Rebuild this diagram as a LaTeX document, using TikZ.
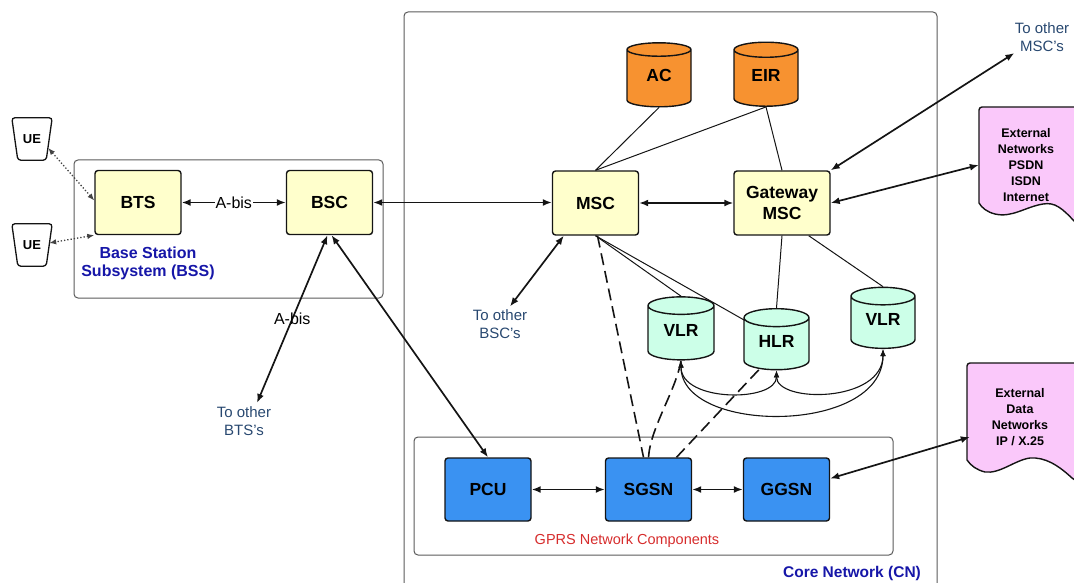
\documentclass[tikz,border=0pt]{standalone}
\usepackage{fontspec}
\setmainfont{Liberation Sans}
\usetikzlibrary{arrows.meta,shapes.geometric,calc}

\definecolor{elemyellow}{RGB}{255,255,204}
\definecolor{dborange}{RGB}{247,146,48}
\definecolor{dbgreen}{RGB}{204,255,232}
\definecolor{gprsblue}{RGB}{58,146,242}
\definecolor{extpink}{RGB}{250,200,250}
\definecolor{bssblue}{RGB}{22,22,168}
\definecolor{notecolor}{RGB}{40,72,112}
\definecolor{gprsred}{RGB}{214,44,44}
\definecolor{framegray}{RGB}{90,90,90}
\definecolor{linecol}{RGB}{20,20,20}

\begin{document}
\begin{tikzpicture}[x=1pt,y=-1pt,
  tip/.tip={Latex[length=9pt,width=7pt]},
  smalltip/.tip={Latex[length=7pt,width=5.5pt]},
  elem/.style={draw=linecol, line width=1.4pt, rounded corners=3pt,
    fill=elemyellow, minimum width=86pt, minimum height=64pt,
    font=\fontsize{17.5}{21}\selectfont\bfseries, align=center},
  gprs/.style={elem, fill=gprsblue, minimum height=63pt},
  db/.style={cylinder, shape border rotate=90, aspect=0.42, draw=linecol,
    line width=1.4pt, minimum width=64pt, minimum height=64pt,
    text height=12.5pt, text depth=10pt,
    font=\fontsize{17.5}{21}\selectfont\bfseries},
  frame/.style={draw=framegray, line width=1pt, rounded corners=4pt},
  link/.style={draw=linecol, line width=1.7pt, tip-tip},
  curvelink/.style={draw=linecol, line width=1.1pt, smalltip-smalltip},
  plain/.style={draw=linecol, line width=1pt},
  dashlink/.style={draw=linecol, line width=1.6pt, dash pattern=on 12pt off 6pt},
  dotlink/.style={draw=linecol!80, line width=1.3pt, dotted, smalltip-smalltip},
  note/.style={text=notecolor, font=\fontsize{15}{18}\selectfont, align=center},
  uenode/.style={minimum width=40pt, minimum height=42pt,
    font=\fontsize{13}{15}\selectfont\bfseries},
  uebox/.style={draw=linecol, line width=1.3pt, rounded corners=3pt, fill=white},
  docshape/.style={draw=linecol, line width=1.4pt, fill=extpink},
  doctext/.style={font=\fontsize{12.5}{16}\selectfont\bfseries, align=center}
]
\useasboundingbox (0,0) rectangle (1074,583);
\clip (0,0) rectangle (1074,583);

% group frames
\draw[frame] (74,160) rectangle (383,298);
\draw[frame] (404,12) rectangle (937,600);
\draw[frame] (414,437) rectangle (893,555);

% external network documents
\draw[docshape, rounded corners=3pt] (979,203) -- (979,107) -- (1090,107) [sharp corners] -- (1090,230)
  -- (1075,222) .. controls (1062,208) and (1055,202) .. (1043,204)
  .. controls (1025,207) and (1012,218) .. (995,214)
  .. controls (987,212) and (982,208) .. (979,203) -- cycle;
\draw[docshape, rounded corners=3pt] (967,460) -- (967,363) -- (1090,363) [sharp corners] -- (1090,490)
  -- (1072,478) .. controls (1058,465) and (1045,457) .. (1030,458)
  .. controls (1015,460) and (1000,474) .. (985,472)
  .. controls (977,470) and (971,466) .. (967,460) -- cycle;
\node[doctext, minimum width=94pt, minimum height=90pt] (extnet) at (1026,165)
  {External\\Networks\\PSDN\\ISDN\\Internet};
\node[doctext, minimum width=100pt, minimum height=90pt] (extdata) at (1020,417)
  {External\\Data\\Networks\\IP / X.25};

% user equipment
\node[uenode] (ue1) at (32,139) {};
\node[uenode] (ue2) at (32,245) {};
\foreach \u in {ue1,ue2}{
  \draw[uebox] (\u.north west) -- (\u.north east) -- ($(\u.south east)+(-6,0)$)
    -- ($(\u.south west)+(6,0)$) -- cycle;
}
\node[uenode] at (ue1) {UE};
\node[uenode] at (ue2) {UE};

% base station subsystem
\node[elem] (bts) at (138,202.5) {BTS};
\node[elem] (bsc) at (329.5,202.5) {BSC};
\node[text=bssblue, font=\fontsize{16}{18}\selectfont\bfseries, align=center]
  (bsslabel) at (148,263.5) {Base Station\\Subsystem (BSS)};

% switching subsystem
\node[elem] (msc) at (595.5,203) {MSC};
\node[elem, minimum width=96pt] (gmsc) at (782,203) {Gateway\\MSC};
\node[db, fill=dborange] (ac) at (659,80) {AC};
\node[db, fill=dborange] (eir) at (766,80) {EIR};
\node[db, fill=dbgreen, minimum width=66pt, minimum height=63pt] (vlra) at (681,335) {VLR};
\node[db, fill=dbgreen, minimum width=65pt, minimum height=61pt] (hlr) at (776.5,346) {HLR};
\node[db, fill=dbgreen, minimum width=64pt, minimum height=61pt] (vlrb) at (883,324.5) {VLR};

% GPRS components
\node[gprs] (pcu) at (488,489.5) {PCU};
\node[gprs] (sgsn) at (648.5,489.5) {SGSN};
\node[gprs] (ggsn) at (786.5,489.5) {GGSN};
\node[text=gprsred, font=\fontsize{14.5}{16}\selectfont] (gprslabel) at (627,541) {GPRS Network Components};
\node[text=bssblue, font=\fontsize{15.5}{18}\selectfont\bfseries] (cnlabel) at (852,573) {Core Network (CN)};

% remote ends
\node[note] (tomsc) at (1042,37) {To other\\MSC's};
\node[note] (tobsc) at (500,324.5) {To other\\BSC's};
\node[note] (tobts) at (244,421) {To other\\BTS's};

% radio links
\draw[dotlink] ($(ue1.east)+(-4,9)$) -- ($(bts.west)+(0,-2)$);
\draw[dotlink] (bts.south west) -- ($(ue2.east)+(-3,-2)$);

% wired links
\draw[link] (bts) -- node[fill=white, inner sep=1pt, font=\fontsize{16}{18}\selectfont] (abisa) {A-bis} (bsc);
\draw[link] (bsc.east) -- (bsc.east -| msc.west);
\draw[link] (msc) -- (gmsc);
\draw[plain] (ac.bottom) -- (msc.north);
\draw[plain] (eir.bottom) -- (msc.north);
\draw[plain] (eir.bottom) -- (gmsc.north);
\draw[plain] (msc.south) -- (vlra.top);
\draw[plain] (msc.south) -- ($(hlr.north west)+(0,6)$);
\draw[plain] (gmsc.south) -- (hlr.top);
\draw[plain] ($(gmsc.south east)+(-22,0)$) -- (vlrb.top);
\draw[link] ($(msc.south west)+(12,0)$) -- ($(tobsc.north)+(10,0)$);
\draw[link] (gmsc.north east) -- ($(tomsc.south west)+(3,-2)$);
\draw[link] (gmsc.east) -- (extnet.west);
\draw[link] ($(bsc.south)+(-2,0)$) -- node[pos=0.5, font=\fontsize{16}{18}\selectfont] (abisb) {A-bis} ($(tobts.north)+(13,0)$);
\draw[link] ($(bsc.south)+(2,0)$) -- (pcu.north);
\draw[link] (pcu) -- (sgsn);
\draw[link] (sgsn) -- (ggsn);
\draw[link] ($(ggsn.east)+(0,-11)$) -- ($(extdata.west)+(0,20)$);

% signalling paths of the GPRS core
\draw[dashlink] ($(msc.south)+(2,0)$) -- ($(sgsn.north)+(-5,0)$);
\draw[dashlink] (sgsn.north) .. controls +(2,-30) and +(-5,30) .. (vlra.bottom);
\draw[dashlink] ($(sgsn.north)+(28,0)$) -- ($(hlr.south west)+(6,0)$);

% register interconnections
\draw[curvelink] (vlra.bottom) .. controls +(0,42) and +(0,32) .. (hlr.bottom);
\draw[curvelink] (hlr.bottom) .. controls +(0,33) and +(0,54) .. (vlrb.bottom);
\draw[curvelink] (vlra.bottom) .. controls +(0,74) and +(0,86) .. (vlrb.bottom);
\end{tikzpicture}
\end{document}
